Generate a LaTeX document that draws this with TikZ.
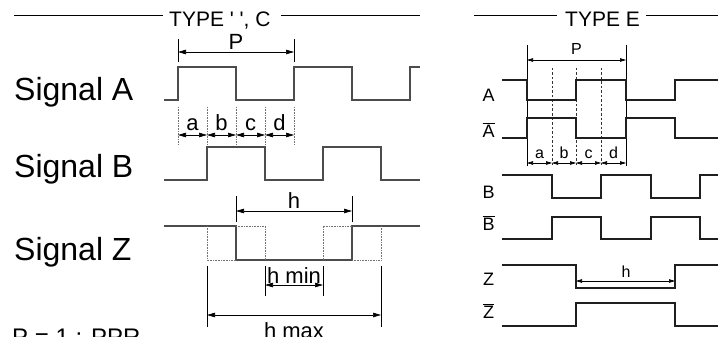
\documentclass[tikz,border=0pt]{standalone}
\usepackage{fontspec}
\setmainfont{Liberation Sans}
\usetikzlibrary{arrows.meta}
\tikzstyle{signal}=[line width=1.1pt, black!70]
\tikzstyle{esignal}=[line width=1.8pt, black!88]
\tikzstyle{guide}=[densely dotted, black!55, line width=0.6pt]
\tikzstyle{eguide}=[dash pattern=on 2.5pt off 2pt, black!80, line width=0.6pt]
\tikzstyle{tick}=[line width=0.8pt]
\tikzstyle{dim}=[line width=0.7pt, {Triangle[length=8pt,width=4.5pt]}-{Triangle[length=8pt,width=4.5pt]}]
\tikzstyle{edim}=[line width=0.6pt, {Triangle[length=6pt,width=3.5pt]}-{Triangle[length=6pt,width=3.5pt]}]
\tikzstyle{biglabel}=[font=\fontsize{32}{32}\selectfont, anchor=base west, inner sep=0pt]
\tikzstyle{title}=[font=\fontsize{21}{21}\selectfont, anchor=base west, inner sep=0pt]
\tikzstyle{small}=[font=\fontsize{22}{22}\selectfont, anchor=base, inner sep=0pt]
\tikzstyle{esmall}=[font=\fontsize{16}{16}\selectfont, anchor=base, inner sep=0pt]
\tikzstyle{elabel}=[font=\fontsize{18}{18}\selectfont, anchor=base, inner sep=0pt]

\begin{document}
\begin{tikzpicture}[x=1pt, y=-1pt]
\useasboundingbox (0,0) rectangle (718,337);
% Headings
    \draw[line width=0.8pt] (14,15) -- (163,15);
    \draw[line width=0.8pt] (281,15) -- (420,15);
    \node[title] (typec) at (169,27) {TYPE \textquotesingle\ \textquotesingle, C};
    \draw[line width=0.8pt] (474,15) -- (557,15);
    \draw[line width=0.8pt] (646,15) -- (718,15);
    \node[title] (typee) at (565,27) {TYPE E};
% Signal names, type C
    \node[biglabel] (siga) at (14,100) {Signal A};
    \node[biglabel] (sigb) at (14,177) {Signal B};
    \node[biglabel] (sigz) at (14,260) {Signal Z};
    \node[font=\fontsize{24}{24}\selectfont, anchor=base west, inner sep=0pt] (ppr) at (12,345) {P = 1 : PPR};
% Waveforms, type C
    \draw[signal] (164,100) -- (178,100) -- (178,67) -- (236,67) -- (236,100) -- (294,100) -- (294,67) -- (352,67) -- (352,100) -- (410,100) -- (410,67) -- (420,67);
    \draw[signal] (164,180) -- (207,180) -- (207,147) -- (265,147) -- (265,180) -- (323,180) -- (323,147) -- (381,147) -- (381,180) -- (420,180);
    \draw[signal] (164,226) -- (236,226) -- (236,260) -- (352,260) -- (352,226) -- (420,226);
    \draw[guide] (207,226) -- (207,260) -- (236,260);
    \draw[guide] (236,226) -- (265,226) -- (265,260);
    \draw[guide] (323,260) -- (323,226) -- (352,226);
    \draw[guide] (352,260) -- (381,260) -- (381,226);
% Period and quarters, type C
    \draw[tick] (178,39) -- (178,62);
    \draw[tick] (294,39) -- (294,62);
    \draw[dim] (178,52) -- (294,52);
    \node[small] (pc) at (236,50) {P};
    \foreach \x in {178,207,236,265,294}
        \draw[guide] (\x,107) -- (\x,145);
    \draw[dim] (178,135) -- (207,135);
    \draw[dim] (207,135) -- (236,135);
    \draw[dim] (236,135) -- (265,135);
    \draw[dim] (265,135) -- (294,135);
    \node[small] (qa) at (192.5,130) {a};
    \node[small] (qb) at (221.5,130) {b};
    \node[small] (qc) at (250.5,130) {c};
    \node[small] (qd) at (279.5,130) {d};
% Z widths, type C
    \draw[tick] (236,196) -- (236,222);
    \draw[tick] (352,196) -- (352,222);
    \draw[dim] (236,211) -- (352,211);
    \node[small] (hc) at (294,208) {h};
    \draw[tick] (265,266) -- (265,296);
    \draw[tick] (323,266) -- (323,296);
    \draw[dim] (265,285) -- (323,285);
    \node[small] (hmin) at (294,283) {h min};
    \draw[tick] (207,266) -- (207,327);
    \draw[tick] (381,266) -- (381,327);
    \draw[dim] (207,315) -- (381,315);
    \node[small] (hmax) at (294,338) {h max};
% Guides, type E
    \draw[line width=0.6pt] (527,45) -- (527,166);
    \draw[line width=0.6pt] (626,45) -- (626,166);
    \foreach \x in {552,576,601}
        \draw[eguide] (\x,68) -- (\x,166);
    \draw[edim] (527,60) -- (626,60);
    \node[esmall] (pe) at (576.5,55) {P};
    \draw[edim] (527,163) -- (552,163);
    \draw[edim] (552,163) -- (576,163);
    \draw[edim] (576,163) -- (601,163);
    \draw[edim] (601,163) -- (626,163);
    \node[esmall] (ea) at (539.5,158) {a};
    \node[esmall] (eb) at (564,158) {b};
    \node[esmall] (ec) at (588.5,158) {c};
    \node[esmall] (ed) at (613.5,158) {d};
% Waveforms, type E
    \draw[esignal] (502,80) -- (527,80) -- (527,100) -- (576,100) -- (576,80) -- (626,80) -- (626,100) -- (675,100) -- (675,80) -- (718,80);
    \draw[esignal] (502,138) -- (527,138) -- (527,118) -- (576,118) -- (576,138) -- (626,138) -- (626,118) -- (675,118) -- (675,138) -- (718,138);
    \draw[esignal] (502,175) -- (552,175) -- (552,198) -- (601,198) -- (601,175) -- (651,175) -- (651,198) -- (700,198) -- (700,175) -- (718,175);
    \draw[esignal] (502,239) -- (552,239) -- (552,217) -- (601,217) -- (601,239) -- (651,239) -- (651,217) -- (700,217) -- (700,239) -- (718,239);
    \draw[esignal] (502,265) -- (576,265) -- (576,288) -- (675,288) -- (675,265) -- (718,265);
    \draw[esignal] (502,326) -- (576,326) -- (576,303) -- (675,303) -- (675,326) -- (718,326);
    \draw[edim] (576,281) -- (675,281);
    \node[esmall] (he) at (626,277) {h};
% Signal names, type E
    \node[elabel] (ea1) at (488.5,102) {A};
    \node[elabel] (ea2) at (488.5,137) {$\overline{\hbox{A}}$};
    \node[elabel] (eb1) at (488.5,198) {B};
    \node[elabel] (eb2) at (488.5,230) {$\overline{\hbox{B}}$};
    \node[elabel] (ez1) at (488.5,285) {Z};
    \node[elabel] (ez2) at (488.5,318) {$\overline{\hbox{Z}}$};
\end{tikzpicture}
\end{document}
